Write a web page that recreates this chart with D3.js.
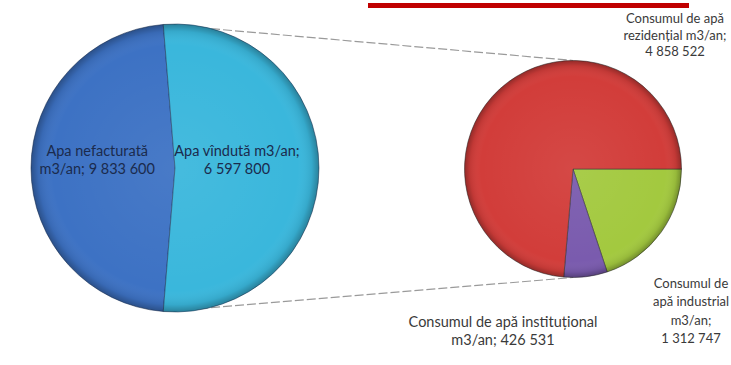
<!DOCTYPE html>
<html><head><meta charset="utf-8">
<script src="https://cdn.jsdelivr.net/npm/d3@7/dist/d3.min.js"></script>
<style>
html,body{margin:0;padding:0;background:#fff;overflow:hidden;}
svg{display:block;font-family:Lato,"Open Sans",sans-serif;}
</style></head>
<body><svg id="c" width="731" height="365"></svg>
<script>
// ---- data ----
const leftCategories = ["Apa nefacturată", "Apa vîndută"];
const leftValues = [9833600, 6597800];            // values printed in the labels
const leftDrawnShares = [47.4, 52.6];             // slice sizes as drawn in the picture (%)
const rightCategories = ["Consumul de apă industrial", "Consumul de apă instituțional", "Consumul de apă rezidențial"];
const rightValues = [1312747, 426531, 4858522];
const unit = "m3/an";

const fmt = v => d3.format(",")(v).replace(/,/g, " ");

const svg = d3.select("#c");
const defs = svg.append("defs");

// layout
const L = {cx: 175, cy: 168, r: 144};
const R = {cx: 573, cy: 169, r: 108.5};

const leftColors = ["#3d72c4", "#3ab7dc"];
const rightColors = ["#a3c93f", "#7a5bae", "#d23d3a"];

// left pie: "Apa vîndută" slice centred on the right (pie-of-pie style)
const vShare = leftDrawnShares[1] / d3.sum(leftDrawnShares);
const lStart = Math.PI / 2 + vShare * Math.PI;
const leftPie = d3.pie().sort(null).value(d => d.s)
  .startAngle(lStart).endAngle(lStart + 2 * Math.PI);
const leftData = leftCategories.map((c, i) => ({c, v: leftValues[i], s: leftDrawnShares[i], i}));
const leftArcs = leftPie(leftData);

const rightPie = d3.pie().sort(null).value(d => d.v)
  .startAngle(Math.PI / 2).endAngle(Math.PI / 2 + 2 * Math.PI);
const rightData = rightCategories.map((c, i) => ({c, v: rightValues[i], i}));
const rightArcs = rightPie(rightData);

// connector lines from the edges of the "vîndută" slice to the second pie
const other = leftArcs[1];
const pt = (c, a, r) => [c.cx + r * Math.sin(a), c.cy - r * Math.cos(a)];
const p1 = pt(L, other.startAngle, L.r), p2 = pt(L, other.endAngle, L.r);
const conn = svg.append("g").attr("stroke", "#9a9a9a").attr("stroke-width", 1.2)
  .attr("stroke-dasharray", "9,3").attr("fill", "none");
conn.append("line").attr("x1", p1[0]).attr("y1", p1[1]).attr("x2", R.cx).attr("y2", R.cy - R.r);
conn.append("line").attr("x1", p2[0]).attr("y1", p2[1]).attr("x2", R.cx).attr("y2", R.cy + R.r);

const arcL = d3.arc().innerRadius(0).outerRadius(L.r);
const arcR = d3.arc().innerRadius(0).outerRadius(R.r);

// shading overlay (light centre, darker rim)
const ov = defs.append("radialGradient").attr("id", "ov");
ov.append("stop").attr("offset", "0%").attr("stop-color", "#fff").attr("stop-opacity", 0.06);
ov.append("stop").attr("offset", "85%").attr("stop-color", "#fff").attr("stop-opacity", 0);
ov.append("stop").attr("offset", "95%").attr("stop-color", "#000").attr("stop-opacity", 0.08);
ov.append("stop").attr("offset", "100%").attr("stop-color", "#000").attr("stop-opacity", 0.3);

const gl = svg.append("g");
gl.selectAll("path").data(leftArcs).join("path")
  .attr("transform", `translate(${L.cx},${L.cy})`)
  .attr("d", arcL)
  .attr("fill", d => leftColors[d.data.i])
  .attr("stroke", "#1f3555").attr("stroke-opacity", 0.6).attr("stroke-width", 0.9);
gl.append("circle").attr("cx", L.cx).attr("cy", L.cy).attr("r", L.r).attr("fill", "url(#ov)");

const gr = svg.append("g");
gr.selectAll("path").data(rightArcs).join("path")
  .attr("transform", `translate(${R.cx},${R.cy})`)
  .attr("d", arcR)
  .attr("fill", d => rightColors[d.data.i])
  .attr("stroke", "#303030").attr("stroke-opacity", 0.6).attr("stroke-width", 0.9);
gr.append("circle").attr("cx", R.cx).attr("cy", R.cy).attr("r", R.r).attr("fill", "url(#ov)");

// ---- labels ----
function label(x, lines, y0, dy, color, size) {
  const t = svg.append("text").attr("text-anchor", "middle")
    .attr("fill", color).attr("font-size", size);
  lines.forEach((s, k) => t.append("tspan").attr("x", x).attr("y", y0 + k * dy).text(s));
}
const navy = "#1b2b4d";
// left pie labels placed at the slice centroids
const cN = d3.arc().innerRadius(L.r * 0.54).outerRadius(L.r * 0.54).centroid(leftArcs[0]);
const cV = d3.arc().innerRadius(L.r * 0.43).outerRadius(L.r * 0.43).centroid(leftArcs[1]);
label(L.cx + cN[0], [leftCategories[0], `${unit};  ${fmt(leftValues[0])}`], L.cy + cN[1] - 12, 18, navy, 14.5);
label(L.cx + cV[0], [`${leftCategories[1]} ${unit};`, fmt(leftValues[1])], L.cy + cV[1] - 12, 18, navy, 14.5);

const gray = "#3a3a3a";
label(675, ["Consumul de apă", `rezidențial ${unit};`, fmt(rightValues[2])], 23, 16.5, gray, 13);
label(691, ["Consumul de", "apă industrial", `${unit};`, fmt(rightValues[0])], 288, 18.3, gray, 13);
label(503, ["Consumul de apă instituțional", `${unit}; ${fmt(rightValues[1])}`], 327, 18, gray, 14.5);

// red underline of the (cropped) title
svg.append("rect").attr("x", 368).attr("y", 3).attr("width", 321).attr("height", 5).attr("fill", "#c00000");
</script></body></html>
